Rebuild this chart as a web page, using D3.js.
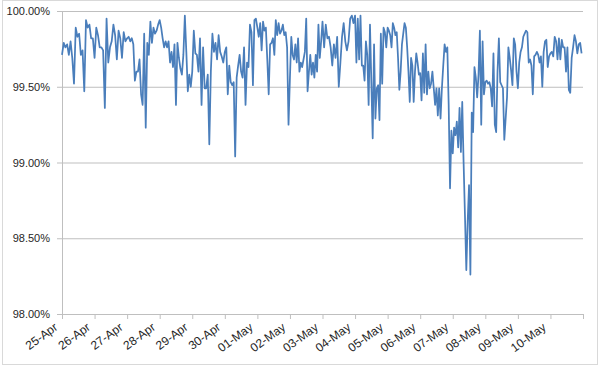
<!DOCTYPE html>
<html>
<head>
<meta charset="utf-8">
<script src="https://cdn.jsdelivr.net/npm/d3@7"></script>
<style>
  html, body { margin: 0; padding: 0; background: #fff; }
  svg { display: block; }
  text { font-family: "Liberation Sans", Arial, sans-serif; }
</style>
</head>
<body>
<svg id="chart" width="600" height="366"></svg>
<script>
// ---- data (availability %, evenly spaced samples within each day) ----
const dayLabels = ["25-Apr","26-Apr","27-Apr","28-Apr","29-Apr","30-Apr","01-May","02-May",
                   "03-May","04-May","05-May","06-May","07-May","08-May","09-May","10-May"];
const yTickValues = [98, 98.5, 99, 99.5, 100];

const apr25 = [99.71,99.79,99.76,99.78,99.71,99.80,99.69,99.52,99.89,99.83,99.85,99.71,99.74,99.47,99.94,99.89,99.91,99.82,99.82];
const apr26 = [99.69,99.89,99.84,99.76,99.76,99.74,99.36,99.95,99.66,99.76,99.80,99.91,99.84,99.68,99.87,99.82,99.69,99.86,99.80];
const apr27 = [99.82,99.83,99.80,99.82,99.78,99.54,99.60,99.60,99.68,99.45,99.38,99.85,99.23,99.79,99.71,99.93,99.79,99.89,99.85,99.87,99.91];
const apr28 = [99.94,99.89,99.82,99.76,99.80,99.76,99.80,99.66,99.73,99.63,99.78,99.38,99.79,99.69,99.62,99.58,99.71,99.97,99.73,99.47,99.58,99.50];
const apr29 = [99.60,99.87,99.72,99.71,99.60,99.82,99.38,99.76,99.49,99.49,99.58,99.12,99.60,99.85,99.73,99.79,99.68,99.84,99.73,99.70,99.66];
const apr30 = [99.73,99.76,99.45,99.64,99.53,99.51,99.53,99.04,99.56,99.64,99.71,99.60,99.56,99.76,99.38,99.66,99.63,99.91,99.86,99.51,99.94,99.95];
const may01 = [99.89,99.83,99.92,99.74,99.93,99.87,99.89,99.68,99.45,99.78,99.79,99.82,99.71,99.94,99.84,99.92,99.85,99.87,99.91,99.84,99.86,99.76,99.25];
const may02 = [99.56,99.83,99.71,99.68,99.78,99.66,99.82,99.60,99.66,99.63,99.68,99.73,99.95,99.47,99.60,99.71,99.58,99.66,99.56,99.71,99.60,99.91,99.69,99.80];
const may03 = [99.93,99.76,99.91,99.82,99.83,99.76,99.64,99.78,99.69,99.83,99.50,99.66,99.83,99.92,99.80,99.74,99.80,99.95,99.97,99.92];
const may04 = [99.97,99.66,99.95,99.68,99.97,99.64,99.64,99.54,99.80,99.71,99.38,99.91,99.53,99.16,99.78,99.29,99.49,99.51,99.28,99.85,99.52,99.89,99.86,99.76];
const may05 = [99.89,99.87,99.84,99.76,99.92,99.89,99.84,99.86,99.69,99.48,99.60,99.78,99.85,99.92,99.89,99.76,99.60,99.40,99.69,99.64,99.40,99.60,99.72,99.66,99.58];
const may06 = [99.59,99.41,99.72,99.46,99.78,99.45,99.60,99.49,99.52,99.60,99.49,99.38,99.49,99.31,99.49,99.29,99.49,99.64,99.78,99.73,99.76,99.38,98.83,99.21];
const may07 = [99.06,99.23,99.18,99.27,99.10,99.36,99.07,99.40,99.00,98.65,98.29,98.61,98.85,98.26,99.33,99.20,99.63,99.56,99.43,99.58,99.87,99.25,99.80,99.45];
const may08 = [99.53,99.54,99.52,99.53,99.49,99.37,99.72,99.25,99.20,99.60,99.82,99.53,99.51,99.49,99.15,99.29,99.43,99.76,99.69,99.61,99.51,99.82,99.78,99.60];
const may09 = [99.49,99.66,99.73,99.76,99.83,99.85,99.87,99.86,99.66,99.68,99.64,99.45,99.70,99.71,99.73,99.71,99.66,99.70,99.50,99.73,99.80,99.81,99.63,99.70];
const may10 = [99.72,99.73,99.70,99.83,99.80,99.68,99.82,99.68,99.81,99.76,99.76,99.60,99.76,99.48,99.46,99.69,99.76,99.84,99.80,99.72,99.78,99.79,99.72];

const dailyValues = [apr25, apr26, apr27, apr28, apr29, apr30, may01, may02,
                     may03, may04, may05, may06, may07, may08, may09, may10];

(function () {
  // ---- build time series ----
  const startDate = new Date(2013, 3, 25);
  const DAY = 24 * 3600 * 1000;
  const series = [];
  dailyValues.forEach((vals, d) => {
    vals.forEach((v, i) => {
      series.push({ t: new Date(startDate.getTime() + d * DAY + (i / vals.length) * DAY), v: v });
    });
  });
  const endDate = new Date(startDate.getTime() + dailyValues.length * DAY);
  const tickDates = d3.range(dailyValues.length + 1).map(d => new Date(startDate.getTime() + d * DAY));

  // ---- layout ----
  const svg = d3.select("#chart");
  const mLeft = 62, mRight = 583, mTop = 11, mBottom = 314;

  svg.append("rect")
    .attr("x", 2.5).attr("y", 0.5).attr("width", 595).attr("height", 364)
    .attr("fill", "#fff").attr("stroke", "#d9d9d9").attr("stroke-width", 1);

  const x = d3.scaleTime().domain([startDate, endDate]).range([mLeft, mRight]);
  const y = d3.scaleLinear().domain([98, 100]).range([mBottom, mTop]);

  const gridColor = "#bfbfbf";
  const textColor = "#262626";

  // horizontal gridlines + y ticks
  const yAxis = d3.axisLeft(y)
    .tickValues(yTickValues)
    .tickSizeInner(-(mRight - mLeft))
    .tickSizeOuter(0)
    .tickPadding(12)
    .tickFormat(d => d3.format(".2f")(d) + "%");
  const gy = svg.append("g").attr("transform", `translate(${mLeft},0)`).call(yAxis);
  gy.select(".domain").attr("stroke", gridColor);
  gy.selectAll(".tick line").attr("stroke", gridColor).attr("x1", -5);
  gy.selectAll(".tick text").attr("fill", textColor).style("font-size", "11px")
    .style("font-family", "'Liberation Sans', Arial, sans-serif");

  // x axis
  const xAxis = d3.axisBottom(x)
    .tickValues(tickDates)
    .tickSizeInner(5)
    .tickSizeOuter(0)
    .tickFormat((d, i) => i < dayLabels.length ? dayLabels[i] : "");
  const gx = svg.append("g").attr("transform", `translate(0,${mBottom})`).call(xAxis);
  gx.select(".domain").attr("stroke", gridColor);
  gx.selectAll(".tick line").attr("stroke", gridColor);
  gx.selectAll(".tick text")
    .attr("fill", textColor)
    .style("font-size", "12px")
    .style("font-family", "'Liberation Sans', Arial, sans-serif")
    .attr("text-anchor", "end")
    .attr("x", 0).attr("y", 0).attr("dy", 0)
    .attr("transform", "translate(-4,15) rotate(-36)");

  // line
  const line = d3.line().x(d => x(d.t)).y(d => y(d.v));
  svg.append("path")
    .datum(series)
    .attr("fill", "none")
    .attr("stroke", "#4a7ebb")
    .attr("stroke-width", 1.75)
    .attr("stroke-linejoin", "round")
    .attr("d", line);
})();
</script>
</body>
</html>
